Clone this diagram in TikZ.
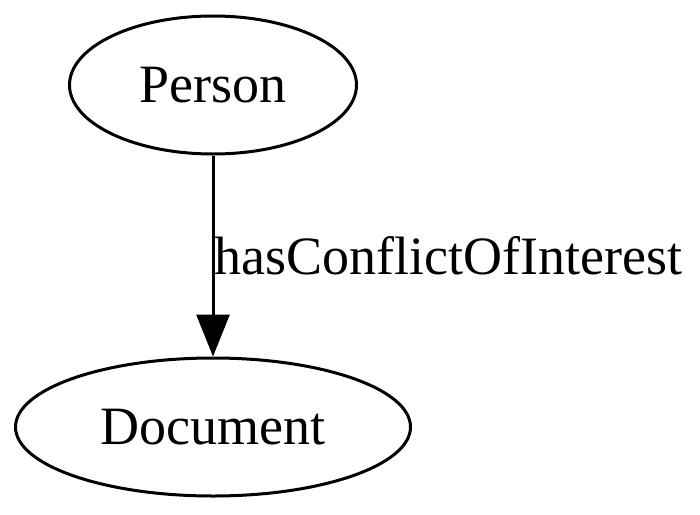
\documentclass[tikz,border=0pt]{standalone}
\usepackage{fontspec}
\setmainfont{Liberation Serif}
\usetikzlibrary{positioning,shapes.geometric,arrows.meta}
\tikzset{
  cls/.style={ellipse,draw=black,line width=3pt,inner sep=0pt,
    font=\fontsize{54}{64}\selectfont},
  rel/.style={-{Triangle[length=42pt,width=33pt]},line width=3pt},
  rellabel/.style={anchor=west,inner sep=0pt,font=\fontsize{54}{64}\selectfont}
}
\begin{document}
\begin{tikzpicture}
  \useasboundingbox (0pt,0pt) rectangle (700pt,-514pt);
  \node[cls,minimum width=287pt,minimum height=138pt] (person) at (213pt,-85pt) {Person};
  \node[cls,minimum width=395pt,minimum height=138pt,below=201pt of person] (document) {Document};
  \draw[rel] (person) -- node[rellabel,pos=0.5]{hasConflictOfInterest} (document);
\end{tikzpicture}
\end{document}
